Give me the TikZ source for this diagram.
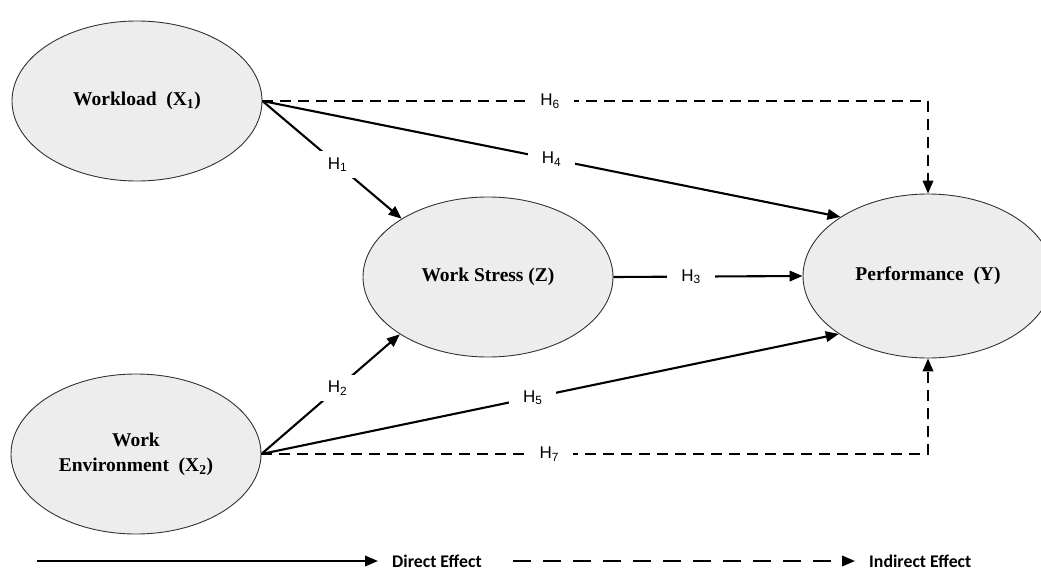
\documentclass[tikz,border=0pt]{standalone}
\usepackage{fontspec}
\setmainfont{Liberation Serif}
\newfontfamily\hfont{Liberation Sans}
\newfontfamily\legfont{Carlito}
\usetikzlibrary{shapes.geometric,arrows.meta}
\begin{document}
\begin{tikzpicture}[x=1pt,y=-1pt,
 latent/.style={ellipse, draw=black!80, line width=0.9pt, fill=black!7,
   minimum width=250pt, minimum height=160pt, inner sep=0pt, align=center,
   font=\fontsize{19.5}{25}\selectfont\bfseries},
 direct/.style={line width=2.1pt, -{Triangle[length=13pt,width=10.5pt]}},
 indirect/.style={direct, dash pattern=on 11pt off 7pt},
 hlab/.style={fill=white, inner xsep=14pt, inner ysep=6pt,
   font=\hfont\fontsize{17}{17}\selectfont},
 legtext/.style={anchor=west, inner xsep=14pt, inner ysep=0pt,
   font=\legfont\bfseries\fontsize{17.8}{18}\selectfont}]
\useasboundingbox (0,0) rectangle (1041,570);
\begin{scope}
\clip (0,0) rectangle (1041,570);
\node[latent] (wl) at (137,101) {Workload~~(X\textsubscript{1})};
\node[latent] (we) at (136,454) {Work\\Environment~~(X\textsubscript{2})};
\node[latent] (ws) at (488,277) {Work Stress (Z)};
\node[latent, minimum height=164pt] (pf) at (928,276) {Performance~~(Y)};
\end{scope}

\draw[indirect] (wl.east) -| node[hlab,pos=0.216]{H\textsubscript{6}} (pf.north);
\draw[direct] (wl.east) -- node[hlab,pos=0.5]{H\textsubscript{4}} (pf.146);
\draw[direct] (wl.east) -- node[hlab,pos=0.54]{H\textsubscript{1}} (ws.146);
\draw[direct] (ws.east) -- node[hlab,pos=0.41]{H\textsubscript{3}} (pf.west);
\draw[direct] (we.east) -- node[hlab,pos=0.55]{H\textsubscript{2}} (ws.213);
\draw[direct] (we.east) -- node[hlab,pos=0.47]{H\textsubscript{5}} (pf.213);
\draw[indirect] (we.east) -| node[hlab,pos=0.216]{H\textsubscript{7}} (pf.south);

\coordinate (ls) at (37,561);
\node[legtext] (ld) at (378,561) {Direct Effect};
\draw[direct] (ls) -- (ld.west);
\coordinate (lis) at (513,561);
\node[legtext] (li) at (855,561) {Indirect Effect};
\draw[direct, dash pattern=on 18pt off 12pt] (lis) -- (li.west);
\end{tikzpicture}
\end{document}
